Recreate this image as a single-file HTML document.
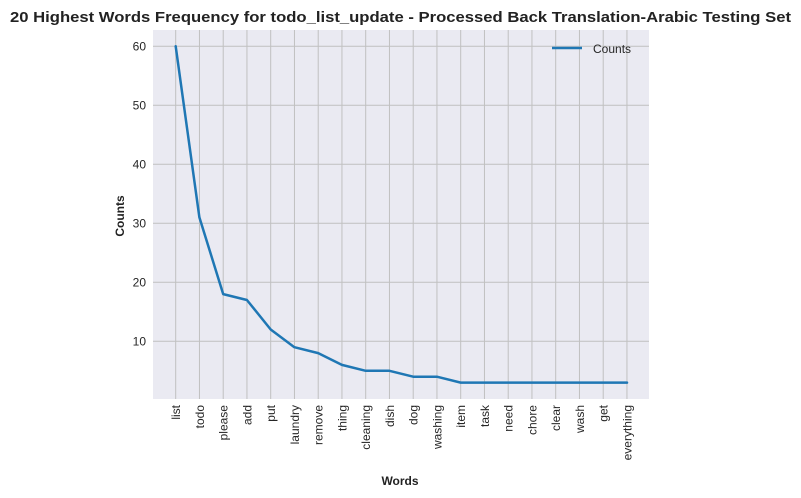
<!DOCTYPE html>
<html><head><meta charset="utf-8"><style>
html,body{margin:0;padding:0;background:#fff;}
svg{display:block;font-family:"Liberation Sans",Arial,sans-serif;}
</style></head><body>
<svg width="801" height="498" viewBox="0 0 801 498" xmlns="http://www.w3.org/2000/svg">
<rect x="0" y="0" width="801" height="498" fill="#fff"/>
<text x="10" y="22" font-size="15" font-weight="bold" fill="#222" textLength="781" lengthAdjust="spacingAndGlyphs">20 Highest Words Frequency for todo_list_update - Processed Back Translation-Arabic Testing Set</text>
<rect x="153" y="30" width="496" height="369" fill="#eaeaf2"/>
<g stroke="#c0c0c0" stroke-width="1">
<line x1="153" x2="649" y1="46.3" y2="46.3"/>
<line x1="153" x2="649" y1="105.3" y2="105.3"/>
<line x1="153" x2="649" y1="164.3" y2="164.3"/>
<line x1="153" x2="649" y1="223.3" y2="223.3"/>
<line x1="153" x2="649" y1="282.3" y2="282.3"/>
<line x1="153" x2="649" y1="341.3" y2="341.3"/>
</g>
<g id="vg" stroke="#c0c0c0" stroke-width="1"></g>
<g id="ticks" font-size="12" fill="#262626"></g>
<g font-size="12" fill="#262626" text-anchor="end">
<text x="146" y="50.5">60</text>
<text x="146" y="109.5">50</text>
<text x="146" y="168.5">40</text>
<text x="146" y="227.5">30</text>
<text x="146" y="286.5">20</text>
<text x="146" y="345.5">10</text>
</g>
<text transform="translate(124,216) rotate(-90)" text-anchor="middle" font-size="12" font-weight="bold" fill="#222">Counts</text>
<text x="400" y="485" text-anchor="middle" font-size="12" font-weight="bold" fill="#222">Words</text>
<polyline id="pl" fill="none" stroke="#1f77b4" stroke-width="2.5" stroke-linejoin="round" stroke-linecap="round"/>
<line x1="552" x2="582" y1="48" y2="48" stroke="#1f77b4" stroke-width="2.5"/>
<text x="593" y="53" font-size="12" fill="#262626">Counts</text>
<script>
var w=["list","todo","please","add","put","laundry","remove","thing","cleaning","dish","dog","washing","item","task","need","chore","clear","wash","get","everything"];
var v=[60,31,18,17,12,9,8,6,5,5,4,4,3,3,3,3,3,3,3,3];
var ns="http://www.w3.org/2000/svg",vg=document.getElementById("vg"),tk=document.getElementById("ticks"),pts=[];
for(var i=0;i<20;i++){var x=175.7+i*23.75,y=341.3-(v[i]-10)*5.9;pts.push(x.toFixed(1)+","+y.toFixed(1));
var l=document.createElementNS(ns,"line");l.setAttribute("x1",x);l.setAttribute("x2",x);l.setAttribute("y1",30);l.setAttribute("y2",399);vg.appendChild(l);
var t=document.createElementNS(ns,"text");t.setAttribute("transform","translate("+(x+4.5)+",405) rotate(-90)");t.setAttribute("text-anchor","end");t.textContent=w[i];tk.appendChild(t);}
document.getElementById("pl").setAttribute("points",pts.join(" "));
</script>
</svg>
</body></html>
